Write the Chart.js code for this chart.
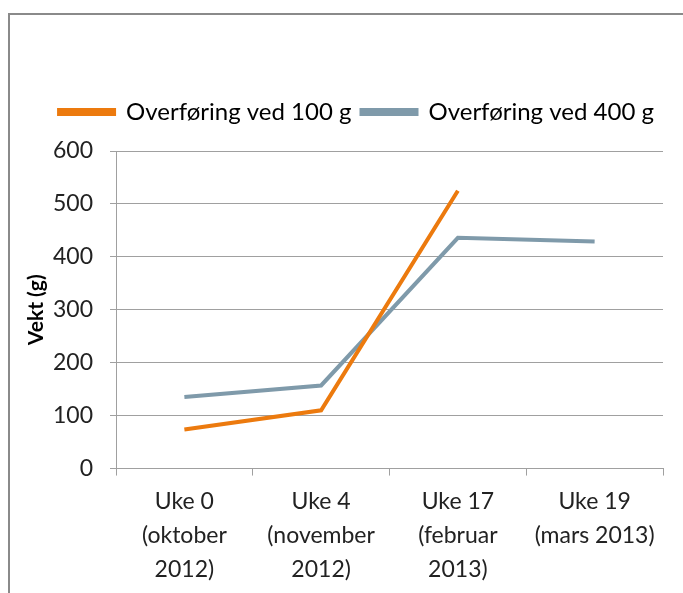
<!DOCTYPE html>
<html>
<head>
<meta charset="utf-8">
<script src="https://cdn.jsdelivr.net/npm/chart.js@4"></script>
<style>
  html, body { margin: 0; padding: 0; background: #fff; overflow: hidden; }
  #frame {
    position: absolute; left: 8px; top: 13px;
    width: 690px; height: 600px;
    border-left: 2px solid #8a8a8a; border-top: 2px solid #8a8a8a;
  }
  #wrap { position: absolute; left: 0; top: 0; width: 673px; height: 580px; }
</style>
</head>
<body>
<div id="frame"><div id="wrap"><canvas id="chart"></canvas></div></div>
<script>
const categories = [
    ['Uke 0', '(oktober', '2012)'],
    ['Uke 4', '(november', '2012)'],
    ['Uke 17', '(februar', '2013)'],
    ['Uke 19', '(mars 2013)']
];
const vekt100 = [74, 110, 525, null];
const vekt400 = [135, 157, 436, 429];

const font = "Lato, 'Open Sans', sans-serif";

// ekstra luft under forklaringen, og litt forskyvning mot høyre
const legendGap = {
    id: 'legendGap',
    beforeInit(chart) {
        const fit = chart.legend.fit;
        chart.legend.fit = function() {
            fit.bind(chart.legend)();
            this.height += 17;
        };
    },
    afterLayout(chart) {
        chart.legend.left += 13;
        chart.legend.right += 13;
    }
};

const ctx = document.getElementById('chart').getContext('2d');
new Chart(ctx, {
    type: 'line',
    data: {
        labels: categories,
        datasets: [{
            label: 'Overføring ved 100 g',
            data: vekt100,
            borderColor: '#EC7A0E',
            backgroundColor: '#EC7A0E',
            borderWidth: 4,
            pointRadius: 0,
            tension: 0
        }, {
            label: 'Overføring ved 400 g',
            data: vekt400,
            borderColor: '#7F9AAA',
            backgroundColor: '#7F9AAA',
            borderWidth: 4,
            pointRadius: 0,
            tension: 0
        }]
    },
    options: {
        responsive: true,
        maintainAspectRatio: false,
        animation: false,
        layout: { padding: { top: 75, right: 20, left: 14, bottom: 0 } },
        scales: {
            x: {
                offset: true,
                grid: { offset: true, drawOnChartArea: false, tickLength: 7, color: '#a0a0a0' },
                border: { color: '#a0a0a0' },
                ticks: {
                    color: '#222',
                    font: { family: font, size: 23, lineHeight: 1.47 },
                    maxRotation: 0,
                    autoSkip: false,
                    padding: 9
                }
            },
            y: {
                min: 0,
                max: 600,
                afterFit(scale) { scale.width = 92; },
                ticks: {
                    stepSize: 100,
                    color: '#222',
                    font: { family: font, size: 23 },
                    padding: 17
                },
                grid: { color: '#a0a0a0', tickLength: 6 },
                border: { color: '#a0a0a0' },
                title: {
                    display: true,
                    text: 'Vekt (g)',
                    color: '#000',
                    font: { family: font, size: 21, weight: 'bold' },
                    padding: { top: 0, bottom: 0 }
                }
            }
        },
        plugins: {
            legend: {
                display: true,
                position: 'top',
                labels: {
                    boxWidth: 55,
                    boxHeight: 4,
                    color: '#000',
                    font: { family: font, size: 24 },
                    padding: 10
                }
            },
            tooltip: { enabled: false }
        }
    },
    plugins: [legendGap]
});
</script>
</body>
</html>
